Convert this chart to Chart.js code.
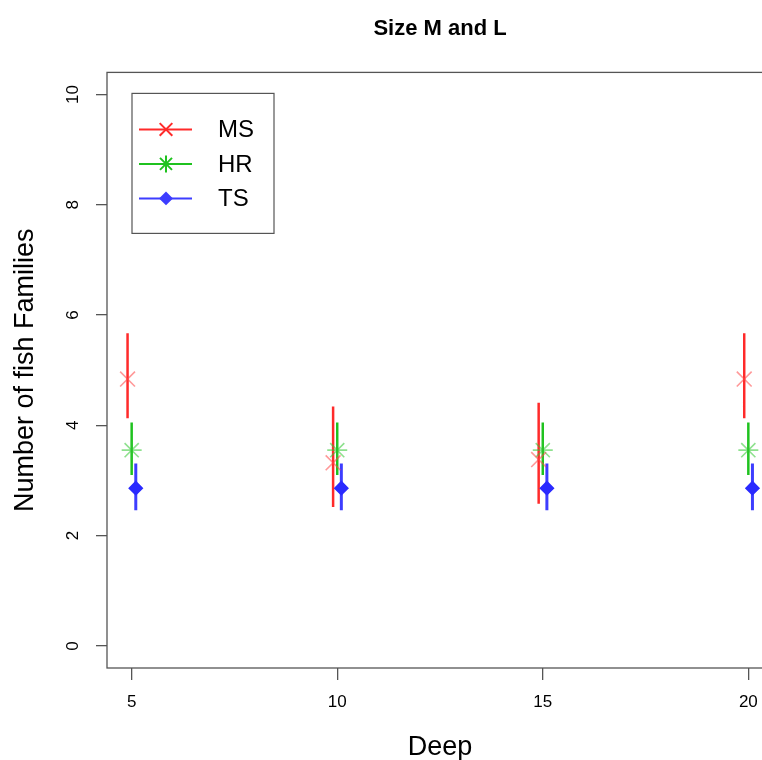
<!DOCTYPE html>
<html lang="en">
<head>
  <meta charset="UTF-8" />
  <title>Size M and L</title>
  <script src="https://cdn.jsdelivr.net/npm/chart.js"></script>
  <style>
    html, body { margin: 0; padding: 0; background: #fff; overflow: hidden; }
    canvas { display: block; }
  </style>
</head>
<body>
  <canvas id="fishChart" width="790" height="764" style="width:790px;height:764px"></canvas>

  <script>
    // values
    const depths = [5, 10, 15, 20];
    const xTicks = [5, 10, 15, 20];
    const yTicks = [0, 2, 4, 6, 8, 10];
    const seriesNames = ["MS", "HR", "TS"];

    const msMean = [4.84, 3.32, 3.38, 4.84];
    const msLow  = [4.13, 2.52, 2.58, 4.13];
    const msHigh = [5.67, 4.34, 4.41, 5.67];

    const hrMean = [3.55, 3.55, 3.55, 3.55];
    const hrLow  = [3.10, 3.10, 3.10, 3.10];
    const hrHigh = [4.05, 4.05, 4.05, 4.05];

    const tsMean = [2.86, 2.86, 2.86, 2.86];
    const tsLow  = [2.46, 2.46, 2.46, 2.46];
    const tsHigh = [3.31, 3.31, 3.31, 3.31];

    const FONT = "'Liberation Sans', Arial, Helvetica, sans-serif";

    // look of each series (dodge keeps the three groups apart a little)
    const styles = [
      { bar: "#ff2a2a", fill: "rgba(255,70,70,0.55)", pointStyle: "crossRot", radius: 10.5, dodge: -0.1, width: 2.5 },
      { bar: "#1fc21f", fill: "rgba(50,200,50,0.55)", pointStyle: "star", radius: 10, dodge: 0, width: 2.5 },
      { bar: "#3d3dff", fill: "#2a2aff", pointStyle: "rectRot", radius: 6.5, dodge: 0.1, width: 3 }
    ];

    const means = [msMean, hrMean, tsMean];
    const lows = [msLow, hrLow, tsLow];
    const highs = [msHigh, hrHigh, tsHigh];

    function errorBars(lo, hi, dx) {
      const out = [];
      depths.forEach((d, i) => {
        out.push({ x: d + dx, y: lo[i] }, { x: d + dx, y: hi[i] }, { x: d + dx, y: null });
      });
      return out;
    }

    const datasets = [];
    seriesNames.forEach((name, s) => {
      const st = styles[s];
      datasets.push({
        label: name + " range",
        data: errorBars(lows[s], highs[s], st.dodge),
        showLine: true,
        spanGaps: false,
        borderColor: st.bar,
        borderWidth: st.width,
        pointRadius: 0,
        pointHoverRadius: 0,
        order: 2
      });
    });
    seriesNames.forEach((name, s) => {
      const st = styles[s];
      datasets.push({
        label: name,
        data: depths.map((d, i) => ({ x: d + st.dodge, y: means[s][i] })),
        showLine: false,
        pointStyle: st.pointStyle,
        pointRadius: st.radius,
        pointBorderWidth: 1.6,
        pointBorderColor: st.fill,
        pointBackgroundColor: st.fill,
        order: 1
      });
    });

    // full box round the plot, as in base R
    const boxPlugin = {
      id: "box",
      afterDraw(chart) {
        const a = chart.chartArea, ctx = chart.ctx;
        ctx.save();
        ctx.strokeStyle = "#555";
        ctx.lineWidth = 1.3;
        ctx.strokeRect(a.left, a.top, a.right - a.left, a.bottom - a.top);
        ctx.restore();
      }
    };

    // R-style legend: line with the marker on it, inside a framed box
    const legendPlugin = {
      id: "rLegend",
      afterDraw(chart) {
        const a = chart.chartArea, ctx = chart.ctx;
        const x0 = a.left + 25, y0 = a.top + 21, w = 142, h = 140;
        ctx.save();
        ctx.fillStyle = "#fff";
        ctx.fillRect(x0, y0, w, h);
        ctx.strokeStyle = "#555";
        ctx.lineWidth = 1.2;
        ctx.strokeRect(x0, y0, w, h);
        seriesNames.forEach((name, s) => {
          const st = styles[s];
          const y = y0 + 36 + s * 34.5;
          ctx.strokeStyle = st.bar;
          ctx.lineWidth = 2;
          ctx.beginPath();
          ctx.moveTo(x0 + 7, y);
          ctx.lineTo(x0 + 60, y);
          ctx.stroke();
          ctx.fillStyle = st.bar;
          ctx.strokeStyle = st.bar;
          Chart.helpers.drawPoint(ctx, {
            pointStyle: st.pointStyle,
            radius: st.radius * 0.85,
            rotation: 0,
            borderWidth: 1.6
          }, x0 + 34, y);
          ctx.fillStyle = "#000";
          ctx.font = "24px " + FONT;
          ctx.textBaseline = "middle";
          ctx.textAlign = "left";
          ctx.fillText(name, x0 + 86, y + 1);
        });
        ctx.restore();
      }
    };

    new Chart(document.getElementById("fishChart"), {
      type: "scatter",
      data: { datasets },
      plugins: [boxPlugin, legendPlugin],
      options: {
        responsive: false,
        animation: false,
        devicePixelRatio: 1,
        layout: { padding: { left: 0, right: 17, top: 0, bottom: 0 } },
        plugins: {
          legend: { display: false },
          tooltip: { enabled: false },
          title: {
            display: true,
            text: "Size M and L",
            fullSize: false,
            color: "#000",
            font: { family: FONT, size: 22, weight: "bold" },
            padding: { top: 16, bottom: 30 }
          }
        },
        scales: {
          x: {
            type: "linear",
            min: 4.4,
            max: 20.6,
            afterBuildTicks: sc => { sc.ticks = xTicks.map(v => ({ value: v })); },
            afterFit: sc => { sc.height = 96; },
            grid: { drawOnChartArea: false, drawTicks: true, tickLength: 12, color: "#555", lineWidth: 1.3 },
            border: { display: false },
            ticks: { color: "#000", padding: 12, maxRotation: 0, font: { family: FONT, size: 17 } },
            title: { display: true, text: "Deep", color: "#000", padding: { top: 0, bottom: 0 }, font: { family: FONT, size: 27 } }
          },
          y: {
            type: "linear",
            min: -0.4,
            max: 10.4,
            afterBuildTicks: sc => { sc.ticks = yTicks.map(v => ({ value: v })); },
            afterFit: sc => { sc.width = 107; },
            grid: { drawOnChartArea: false, drawTicks: true, tickLength: 11, color: "#555", lineWidth: 1.3 },
            border: { display: false },
            ticks: { color: "#000", padding: 13, crossAlign: "center", minRotation: 90, maxRotation: 90, font: { family: FONT, size: 17 } },
            title: { display: true, text: "Number of fish Families", color: "#000", padding: { top: 9, bottom: 0 }, font: { family: FONT, size: 27 } }
          }
        }
      }
    });
  </script>
</body>
</html>
